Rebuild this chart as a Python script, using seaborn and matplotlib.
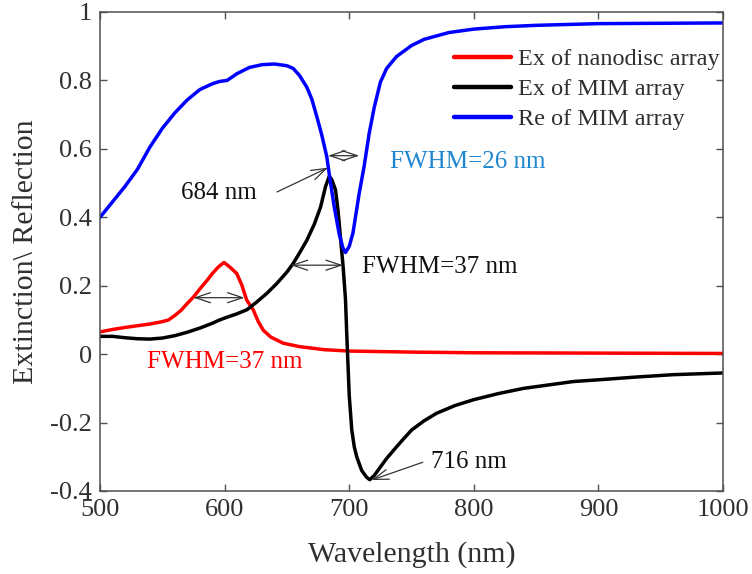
import matplotlib
matplotlib.use("Agg")
import matplotlib.pyplot as plt
from matplotlib.lines import Line2D
import seaborn as sns
import pandas as pd

# Extinction of nanodisc array (wavelength nm, value)
red_wl = [500, 510, 520, 530, 540, 550, 555, 560, 565, 570, 575, 580, 586, 590, 595,
          599.5, 604, 609.7, 614, 617.7, 623, 627, 631, 637, 647, 660, 680, 700, 750,
          800, 900, 1000]
red_val = [0.065, 0.072, 0.078, 0.083, 0.088, 0.095, 0.100, 0.113, 0.128, 0.148, 0.167,
           0.19, 0.216, 0.235, 0.255, 0.268, 0.255, 0.236, 0.20, 0.158, 0.129, 0.095,
           0.07, 0.05, 0.032, 0.022, 0.013, 0.009, 0.006, 0.004, 0.003, 0.002]

# Extinction of MIM array
black_wl = [500, 510, 520, 530, 540, 550, 560, 570, 580, 590, 596, 602, 610, 618, 625,
            634, 642, 650, 655, 660, 666, 672, 677, 681, 684, 686, 689, 691, 693, 695,
            697, 698, 699, 700, 702, 704, 706, 710, 714, 716.5, 720, 725, 730, 737, 743,
            750, 760, 770, 785, 800, 820, 840, 860, 880, 900, 930, 960, 1000]
black_val = [0.052, 0.052, 0.048, 0.045, 0.044, 0.047, 0.054, 0.064, 0.076, 0.09, 0.1,
             0.108, 0.118, 0.13, 0.15, 0.178, 0.207, 0.24, 0.265, 0.295, 0.333, 0.38,
             0.43, 0.49, 0.52, 0.51, 0.48, 0.42, 0.34, 0.26, 0.16, 0.06, -0.03, -0.12,
             -0.22, -0.27, -0.30, -0.34, -0.36, -0.367, -0.355, -0.33, -0.305, -0.275,
             -0.25, -0.222, -0.195, -0.173, -0.15, -0.133, -0.115, -0.10, -0.09, -0.08,
             -0.075, -0.067, -0.06, -0.055]

# Reflection of MIM array
blue_wl = [500, 510, 520, 530, 540, 550, 560, 570, 580, 590, 596, 602, 610, 620, 630,
           640, 650, 655, 660, 666, 670, 674, 678, 682, 684.6, 688, 692, 695, 697, 700,
           703, 708, 712, 716, 720, 725, 730, 738, 750, 760, 780, 800, 825, 850, 900,
           950, 1000]
blue_val = [0.40, 0.445, 0.49, 0.54, 0.605, 0.66, 0.705, 0.743, 0.773, 0.79, 0.797,
            0.80, 0.82, 0.838, 0.846, 0.848, 0.843, 0.835, 0.815, 0.78, 0.745, 0.694,
            0.64, 0.577, 0.51, 0.43, 0.35, 0.31, 0.297, 0.315, 0.354, 0.47, 0.55, 0.645,
            0.72, 0.795, 0.835, 0.87, 0.902, 0.92, 0.94, 0.95, 0.957, 0.961, 0.966,
            0.967, 0.968]

series_names = ["Ex of nanodisc array", "Ex of MIM array", "Re of MIM array"]
series_colors = ["#ff0000", "#000000", "#0000ff"]

x_ticks = [500, 600, 700, 800, 900, 1000]
y_ticks = [-0.4, -0.2, 0, 0.2, 0.4, 0.6, 0.8, 1]
y_tick_labels = ["-0.4", "-0.2", "0", "0.2", "0.4", "0.6", "0.8", "1"]

sns.set_theme(style="white")
plt.rcParams["font.family"] = ["Liberation Serif", "DejaVu Serif"]
plt.rcParams["axes.unicode_minus"] = False

text_col = "#303030"
spine_col = "#505050"

fig = plt.figure(figsize=(7.52, 5.74), dpi=100)
ax = fig.add_axes([0.133, 0.1446, 0.8285, 0.8345])

frames = []
for name, wl, val in zip(series_names, [red_wl, black_wl, blue_wl],
                         [red_val, black_val, blue_val]):
    frames.append(pd.DataFrame({"wl": wl, "val": val, "series": name}))
df = pd.concat(frames, ignore_index=True)

sns.lineplot(data=df, x="wl", y="val", hue="series", hue_order=series_names,
             palette=dict(zip(series_names, series_colors)), sort=False,
             estimator=None, linewidth=2.5, ax=ax, legend=False)
for line in ax.lines:
    line.set_solid_joinstyle("round")

ax.set_xlim(500, 1000)
ax.set_ylim(-0.4, 1)
ax.set_xticks(x_ticks)
ax.set_xticklabels([str(t) for t in x_ticks])
ax.set_yticks(y_ticks)
ax.set_yticklabels(y_tick_labels)
ax.tick_params(direction="in", length=5, width=1, colors=spine_col,
               labelcolor=text_col, labelsize=19, top=True, right=True,
               bottom=True, left=True, pad=6)
for sp in ax.spines.values():
    sp.set_color(spine_col)
    sp.set_linewidth(1.1)
    sp.set_visible(True)

ax.set_xlabel("Wavelength (nm)", fontsize=21.5, color=text_col)
ax.set_ylabel("Extinction\\ Reflection", fontsize=21.5, color=text_col)
ax.xaxis.set_label_coords(0.5, -0.105)
ax.yaxis.set_label_coords(-0.098, 0.5)

# Legend without frame, top right inside the axes
handles = [Line2D([0], [0], color=c, lw=3.2) for c in series_colors]
leg = ax.legend(handles, series_names, loc="upper right",
                bbox_to_anchor=(0.995, 0.924), frameon=False, fontsize=17.5,
                handlelength=2.35, handletextpad=0.3, labelspacing=0.33,
                borderpad=0, borderaxespad=0)
for t in leg.get_texts():
    t.set_color(text_col)

arrow_col = "#333333"
dbl = dict(arrowstyle="<->, head_length=0.9, head_width=0.3", color=arrow_col,
           lw=0.9, shrinkA=0, shrinkB=0)
one = dict(arrowstyle="->, head_length=0.9, head_width=0.3", color=arrow_col,
           lw=0.9, shrinkA=0, shrinkB=0)

# FWHM markers
ax.annotate("", xy=(575, 0.165), xytext=(616, 0.165), arrowprops=dbl)
ax.annotate("", xy=(653, 0.26), xytext=(695, 0.26), arrowprops=dbl)
ax.annotate("", xy=(683, 0.58), xytext=(708, 0.58), arrowprops=dbl)

# Peak / dip call-outs
ax.annotate("", xy=(683, 0.545), xytext=(642, 0.474), arrowprops=one)
ax.text(595.5, 0.47, "684 nm", fontsize=18, color="#111111", ha="center", va="center")
ax.annotate("", xy=(718, -0.368), xytext=(759, -0.316), arrowprops=one)
ax.text(766, -0.316, "716 nm", fontsize=18, color="#111111", ha="left", va="center")

ax.text(710, 0.254, "FWHM=37 nm", fontsize=18, color="#111111", ha="left", va="center")
ax.text(537.5, -0.023, "FWHM=37 nm", fontsize=18, color="#ff0000", ha="left", va="center")
ax.text(733, 0.561, "FWHM=26 nm", fontsize=18, color="#1f86d0", ha="left", va="center")

fig.savefig("out.png", dpi=100)
